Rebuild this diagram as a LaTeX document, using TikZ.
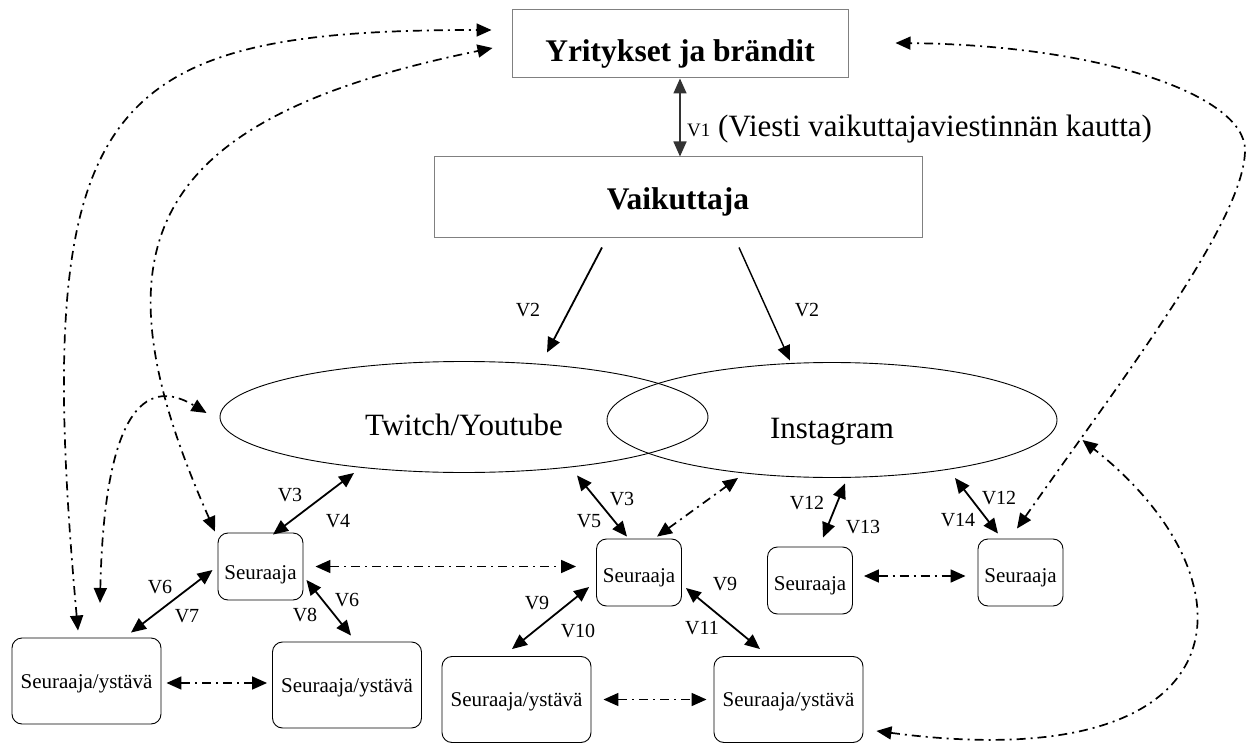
\documentclass[tikz,border=0pt]{standalone}
\usepackage{fontspec}
\setmainfont{Liberation Serif}
\usetikzlibrary{shapes,arrows.meta,positioning,calc}

\begin{document}
\begin{tikzpicture}[x=1pt, y=-1pt, >={Triangle[length=15pt, width=13pt]},
    topbox/.style={draw=gray, rectangle, line width=1pt, inner sep=0pt, text depth=0pt, font=\fontsize{31.5}{36}\selectfont\bfseries},
    channel/.style={draw, ellipse, line width=0.9pt, inner sep=0pt, text height=36pt, text depth=0pt, font=\fontsize{31}{36}\selectfont},
    follower/.style={draw, rectangle, rounded corners=10pt, line width=0.9pt, minimum width=85pt, minimum height=67pt, inner sep=0pt, text height=19pt, text depth=0pt, font=\fontsize{21}{25}\selectfont},
    friend/.style={follower, minimum width=149pt, minimum height=86pt, text height=14pt},
    solidlink/.style={<->, line width=1.8pt},
    dotlink/.style={<->, line width=1.7pt, dash pattern=on 9pt off 5pt on 2pt off 5pt},
    vlab/.style={inner sep=0pt, font=\fontsize{20}{24}\selectfont}]
    \useasboundingbox (0,0) rectangle (1248,749);

    \node[topbox, minimum width=336pt, minimum height=68pt, text height=36pt] (yb) at (680,44) {Yritykset ja brändit};
    \node[topbox, minimum width=488pt, minimum height=80pt, text height=24pt] (vk) at (678,197) {Vaikuttaja};
    \node[channel, minimum width=488pt, minimum height=111pt] (tw) at (464,417) {Twitch/Youtube};
    \node[channel, minimum width=450pt, minimum height=115pt] (ig) at (832,420) {Instagram};

    \node[follower, text height=26pt] (s1) at (260.5,566.5) {Seuraaja};
    \node[follower] (s2) at (639,572.5) {Seuraaja};
    \node[follower] (s3) at (810,580.5) {Seuraaja};
    \node[follower] (s4) at (1020.5,572.5) {Seuraaja};
    \node[friend] (f1) at (86.5,681) {Seuraaja/ystävä};
    \node[friend] (f2) at (347,685) {Seuraaja/ystävä};
    \node[friend] (f3) at (516.5,699.5) {Seuraaja/ystävä};
    \node[friend] (f4) at (788.5,699.5) {Seuraaja/ystävä};

    \draw[<->, line width=1.6pt, draw=black!80] (yb.south) -- (yb.south |- vk.north);
    \node[anchor=base west, inner sep=0pt, font=\fontsize{31}{36}\selectfont] (v1) at (687,137) {{\fontsize{19}{22}\selectfont V1} (Viesti vaikuttajaviestinnän kautta)};

    \draw[->, line width=1.8pt] ([xshift=-76pt,yshift=-10pt]vk.south) -- ([xshift=83pt,yshift=8.5pt]tw.north);
    \draw[->, line width=1.4pt] ([xshift=61pt,yshift=-10pt]vk.south) -- ([xshift=-42pt,yshift=1.5pt]ig.north);
    \node[vlab] (v2a) at (528,310) {V2};
    \node[vlab] (v2b) at (807,310) {V2};

    \draw[solidlink] ([xshift=12.5pt,yshift=-2pt]s1.north) -- ([xshift=-110pt]tw.south);
    \draw[solidlink] ([xshift=113pt,yshift=-2.5pt]tw.south) -- ([xshift=-12pt,yshift=2pt]s2.north);
    \draw[dotlink] ([xshift=18pt,yshift=2pt]s2.north) -- ([xshift=-94pt]ig.south);
    \draw[solidlink] ([xshift=13pt,yshift=9pt]s3.north) -- ([xshift=13pt,yshift=-5.5pt]ig.south);
    \draw[solidlink] ([xshift=123pt]ig.south) -- ([xshift=-22.5pt,yshift=5pt]s4.north);
    \draw[solidlink] ([xshift=-5pt,yshift=-3.5pt]s1.west) -- ([xshift=44.5pt,yshift=5pt]f1.north);
    \draw[solidlink] ([xshift=3pt,yshift=-13.5pt]s1.east) -- ([xshift=4pt,yshift=6pt]f2.north);
    \draw[solidlink] ([xshift=-7pt,yshift=-14.5pt]s2.west) -- ([xshift=-4.5pt,yshift=7pt]f3.north);
    \draw[solidlink] ([xshift=4pt,yshift=-15.5pt]s2.east) -- ([xshift=-28.5pt,yshift=7pt]f4.north);

    \node[vlab] (v3a) at (290,495) {V3};
    \node[vlab] (v4) at (338,521) {V4};
    \node[vlab] (v3b) at (622,499) {V3};
    \node[vlab] (v5) at (589,521) {V5};
    \node[vlab] (v6a) at (160,587) {V6};
    \node[vlab] (v7) at (187,616) {V7};
    \node[vlab] (v6b) at (347,600) {V6};
    \node[vlab] (v8) at (305,615) {V8};
    \node[vlab] (v9a) at (537,603) {V9};
    \node[vlab] (v10) at (578,631) {V10};
    \node[vlab] (v9b) at (725,584) {V9};
    \node[vlab] (v11) at (702,628) {V11};
    \node[vlab] (v12a) at (807,503) {V12};
    \node[vlab] (v13) at (863,527) {V13};
    \node[vlab] (v12b) at (999,498) {V12};
    \node[vlab] (v14) at (958,520) {V14};

    \draw[dotlink, shorten <=12pt, shorten >=20pt] (s1.east) -- (s1.east -| s2.west);
    \draw[dotlink, shorten <=5pt, shorten >=5pt] ($(f1.east)+(0,2)$) -- ($(f2.west)+(0,-2)$);
    \draw[dotlink, shorten <=12pt, shorten >=7pt] (f3.east) -- (f4.west);
    \draw[dotlink, shorten <=11pt, shorten >=12pt] ($(s3.east)+(0,-4.5)$) -- ($(s4.west)+(0,3.5)$);

    \draw[dotlink] ([xshift=-8.5pt,yshift=7pt]f1.north) .. controls (30,100) and (100,30) .. ([xshift=-20pt,yshift=14pt]yb.west);
    \draw[dotlink] ([xshift=-45.5pt,yshift=1pt]s1.north) .. controls (90,250) and (140,120) .. ([xshift=-19pt,yshift=-4pt]yb.west);
    \coordinate (lp) at (100,603);
    \draw[dotlink] (lp) .. controls (105,380) and (160,385) .. ([xshift=-13pt,yshift=4pt]tw.west);
    \draw[dotlink] ([xshift=-3.5pt,yshift=10pt]s4.north) .. controls (1122,379) and (1245,220) .. (1245,150) .. controls (1245,95) and (1100,45) .. ([xshift=47pt,yshift=1pt]yb.east);
    \draw[dotlink] ([xshift=13pt,yshift=12pt]f4.south east) .. controls (1250,780) and (1260,580) .. ([xshift=25pt,yshift=-20pt]ig.east);
\end{tikzpicture}
\end{document}
